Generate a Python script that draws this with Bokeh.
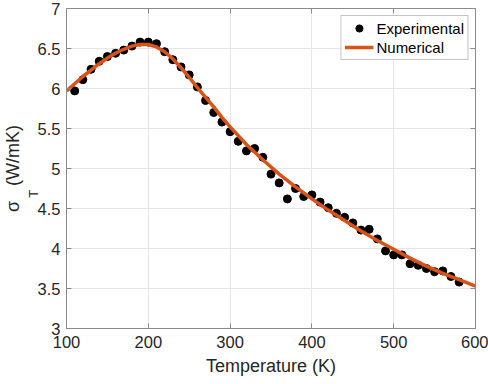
from bokeh.plotting import figure
from bokeh.models import Range1d, LinearAxis, FixedTicker, Title
from bokeh.embed import file_html
from bokeh.resources import INLINE

# ---- data ----
exp_T = [110, 120, 130, 140, 150, 160, 170, 180, 190, 200,
         210, 220, 230, 240, 250, 260, 270, 280, 290, 300,
         310, 320, 330, 340, 350, 360, 370, 380, 390, 400,
         410, 420, 430, 440, 450, 460, 470, 480, 490, 500,
         510, 520, 530, 540, 550, 560, 570, 580]
exp_sigma = [5.97, 6.11, 6.24, 6.34, 6.40, 6.44, 6.48, 6.53, 6.58, 6.58,
             6.56, 6.46, 6.36, 6.27, 6.17, 6.02, 5.85, 5.70, 5.58, 5.46,
             5.34, 5.22, 5.25, 5.14, 4.93, 4.82, 4.62, 4.75, 4.65, 4.67,
             4.58, 4.51, 4.44, 4.39, 4.32, 4.23, 4.24, 4.12, 3.97, 3.92,
             3.92, 3.81, 3.79, 3.75, 3.71, 3.72, 3.65, 3.58]

num_T = [100, 110, 120, 130, 140, 150, 160, 170, 180, 190, 200,
         210, 220, 230, 240, 250, 260, 270, 280, 290, 300,
         320, 340, 360, 380, 400, 420, 440, 460, 480, 500,
         520, 540, 560, 580, 600]
num_sigma = [5.97, 6.06, 6.15, 6.23, 6.31, 6.38, 6.44, 6.49, 6.53, 6.55, 6.55,
             6.52, 6.46, 6.37, 6.26, 6.14, 6.01, 5.89, 5.77, 5.64, 5.52,
             5.30, 5.11, 4.93, 4.77, 4.62, 4.48, 4.35, 4.22, 4.10, 3.99,
             3.88, 3.78, 3.69, 3.61, 3.53]

x_ticks = [100, 200, 300, 400, 500, 600]
y_ticks = [3, 3.5, 4, 4.5, 5, 5.5, 6, 6.5, 7]
y_tick_labels = ["3", "3.5", "4", "4.5", "5", "5.5", "6", "6.5", "7"]
x_label = "Temperature (K)"
y_label_symbol = "σ"
y_label_sub = "T"
y_label_unit = "(W/mK)"
legend_labels = ["Experimental", "Numerical"]

# ---- styling ----
FONT = "Liberation Sans"
AXC = "#8a8a8a"
TXT = "#262626"
ORANGE = "#D95319"
NBSP = "\u00a0"
W, H = 488, 384

p = figure(width=W, height=H, output_backend="svg", toolbar_location=None,
           x_range=Range1d(100, 600), y_range=Range1d(3, 7),
           min_border_left=66, min_border_right=13,
           min_border_top=8, min_border_bottom=56)
p.background_fill_color = "white"
p.border_fill_color = "white"
p.outline_line_color = AXC

p.xaxis.ticker = FixedTicker(ticks=x_ticks)
p.yaxis.ticker = FixedTicker(ticks=y_ticks)
p.yaxis.major_label_overrides = {t: s for t, s in zip(y_ticks, y_tick_labels)}
p.xaxis.axis_label = x_label

for ax in (p.xaxis[0], p.yaxis[0]):
    ax.axis_line_color = AXC
    ax.major_tick_line_color = AXC
    ax.major_tick_in = 5
    ax.major_tick_out = 0
    ax.minor_tick_in = 0
    ax.minor_tick_out = 0
    ax.major_label_text_font = FONT
    ax.major_label_text_font_size = "16.5px"
    ax.major_label_text_color = TXT
    ax.axis_label_text_font = FONT
    ax.axis_label_text_font_size = "18px"
    ax.axis_label_text_font_style = "normal"
    ax.axis_label_text_color = TXT
p.xaxis.major_label_standoff = 7
p.yaxis.major_label_standoff = 6
p.xaxis.axis_label_standoff = 5

# subscript "T" as the (inner) y-axis label, padded so it sits below the centre
p.yaxis.axis_label = y_label_sub + NBSP * 14
p.yaxis.axis_label_text_font_size = "13px"
p.yaxis.axis_label_standoff = -6

# "σ   (W/mK)" as an outer left title, centred on the frame
p.add_layout(Title(text=y_label_symbol + NBSP * 3 + y_label_unit, align="center",
                   text_font=FONT, text_font_size="18px", text_font_style="normal",
                   text_color=TXT, standoff=0, offset=0), "left")

for loc, ticks in (("above", x_ticks), ("right", y_ticks)):
    ax = LinearAxis(ticker=FixedTicker(ticks=ticks), major_label_text_font_size="1px",
                    major_label_text_color=None,
                    major_label_standoff=0, major_tick_in=5, major_tick_out=0,
                    minor_tick_in=0, minor_tick_out=0, axis_line_color=AXC,
                    major_tick_line_color=AXC)
    p.add_layout(ax, loc)

p.xgrid.ticker = FixedTicker(ticks=x_ticks)
p.ygrid.ticker = FixedTicker(ticks=y_ticks)
p.xgrid.grid_line_color = "#e6e6e6"
p.ygrid.grid_line_color = "#e6e6e6"

p.scatter(exp_T, exp_sigma, size=8, marker="circle", fill_color="black",
          line_color="black", legend_label=legend_labels[0])
p.line(num_T, num_sigma, line_color=ORANGE, line_width=3.5,
       legend_label=legend_labels[1])

lg = p.legend[0]
lg.location = "top_right"
lg.margin = 7
lg.padding = 3
lg.spacing = 1
lg.label_height = 18
lg.glyph_height = 18
lg.glyph_width = 29
lg.label_standoff = 3
lg.label_text_font = FONT
lg.label_text_font_size = "15px"
lg.label_text_color = "black"
lg.border_line_color = AXC
lg.background_fill_alpha = 1

open("out.html", "w").write(file_html(p, INLINE))
